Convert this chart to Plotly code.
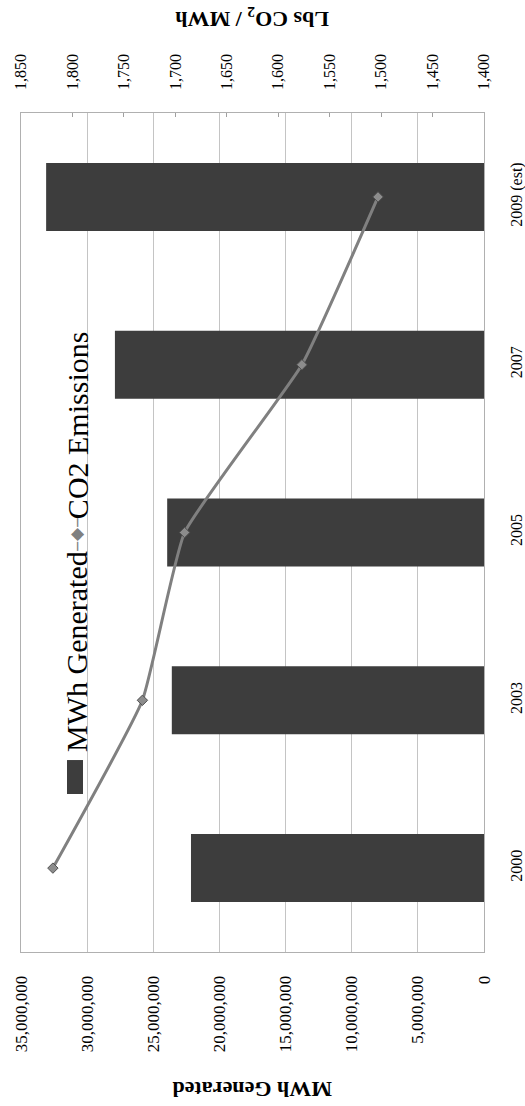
import plotly.graph_objects as go

years = ["2000", "2003", "2005", "2007", "2009 (est)"]
mwh_generated = [22150000, 23600000, 23950000, 27900000, 33100000]
co2_lbs_per_mwh = [1819, 1732, 1691, 1577, 1503]
mwh_ticks = [0, 5000000, 10000000, 15000000, 20000000, 25000000, 30000000, 35000000]
co2_ticks = [1400, 1450, 1500, 1550, 1600, 1650, 1700, 1750, 1800, 1850]

SERIF = "Liberation Serif"
BAR_C = "#3d3d3d"
LINE_C = "#808080"
GRID_C = "#c4c4c4"

fig = go.Figure()
fig.add_trace(go.Bar(
    y=years, x=mwh_generated, orientation="h", name="MWh Generated",
    marker=dict(color=BAR_C, line=dict(width=0)), xaxis="x", yaxis="y",
))
fig.add_trace(go.Scatter(
    y=years, x=co2_lbs_per_mwh, mode="lines+markers", name="CO2 Emissions",
    line=dict(color=LINE_C, width=3, shape="spline", smoothing=0.4),
    marker=dict(symbol="diamond", size=8, color="#8c8c8c", line=dict(color="#505050", width=1)),
    xaxis="x2", yaxis="y",
))

fig.update_layout(
    width=525, height=1106,
    margin=dict(l=21, r=41, t=113, b=154, autoexpand=False),
    paper_bgcolor="white", plot_bgcolor="white",
    showlegend=False,
    bargap=0.595,
    font=dict(family=SERIF, color="black"),
    xaxis=dict(
        range=[35000000, 0], tickvals=mwh_ticks, tickformat=",",
        tickangle=-90, tickfont=dict(family=SERIF, size=17, color="black"),
        showgrid=True, gridcolor=GRID_C, gridwidth=1, zeroline=False,
        showline=True, mirror=True, linecolor="#b0b0b0", linewidth=1,
        ticks="", ticklabelstandoff=16, automargin=False,
    ),
    xaxis2=dict(
        overlaying="x", side="top", anchor="y",
        range=[1850, 1400], tickvals=co2_ticks, tickformat=",",
        tickangle=-90, tickfont=dict(family=SERIF, size=16, color="black"),
        showgrid=False, zeroline=False,
        ticks="inside", ticklen=4, tickcolor="#a0a0a0",
        ticklabelstandoff=22, automargin=False,
    ),
    yaxis=dict(
        type="category", categoryorder="array", categoryarray=years,
        side="right", tickangle=-90,
        tickfont=dict(family=SERIF, size=16, color="black"),
        showgrid=False, zeroline=False,
        showline=True, mirror=True, linecolor="#b0b0b0", linewidth=1,
        ticks="", ticklabelstandoff=18, automargin=False,
    ),
)

# axis titles (upside down, as in the reference)
fig.add_annotation(
    text="<b>Lbs CO<sub>2</sub> / MWh</b>", xref="paper", yref="paper",
    x=0.5, y=1.114, xanchor="center", yanchor="middle", textangle=180,
    showarrow=False, font=dict(family=SERIF, size=22, color="black"),
)
fig.add_annotation(
    text="<b>MWh Generated</b>", xref="paper", yref="paper",
    x=0.5, y=-0.1645, xanchor="center", yanchor="middle", textangle=180,
    showarrow=False, font=dict(family=SERIF, size=22, color="black"),
)

# legend (rotated, drawn as decoration)
fig.add_shape(
    type="rect", xref="paper", yref="paper",
    x0=0.0994, x1=0.1339, y0=0.1883, y1=0.2288,
    fillcolor=BAR_C, line=dict(width=0),
)
fig.add_annotation(
    text="MWh Generated", xref="paper", yref="paper", x=0.121, y=0.3576,
    xanchor="center", yanchor="middle", textangle=-90, showarrow=False,
    font=dict(family=SERIF, size=30, color="black"),
)
fig.add_annotation(
    text="‒◆‒", xref="paper", yref="paper", x=0.119, y=0.4975,
    xanchor="center", yanchor="middle", textangle=-90, showarrow=False,
    font=dict(family="DejaVu Sans", size=17, color=LINE_C),
)
fig.add_annotation(
    text="CO2 Emissions", xref="paper", yref="paper", x=0.121, y=0.628,
    xanchor="center", yanchor="middle", textangle=-90, showarrow=False,
    font=dict(family=SERIF, size=30, color="black"),
)

fig.write_html("out.html")
